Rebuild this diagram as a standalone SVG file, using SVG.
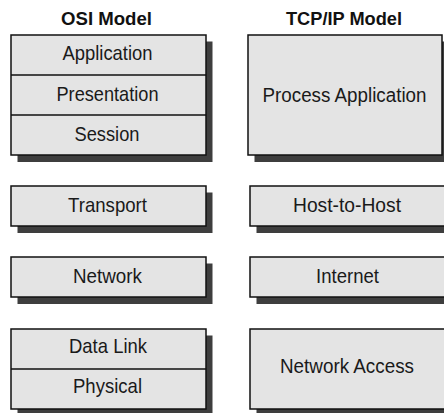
<svg xmlns="http://www.w3.org/2000/svg" width="444" height="413" viewBox="0 0 444 413">
<style>
.sh{fill:#3e3e3e;stroke:none}
.bx{fill:#e4e4e4;stroke:#111;stroke-width:1.5}
.dv{stroke:#111;stroke-width:1.5}
.t{font-family:"Liberation Sans",Arial,sans-serif;font-size:21px;fill:#1a1a1a;text-anchor:middle}
.h{font-family:"Liberation Sans",Arial,sans-serif;font-size:18.5px;font-weight:bold;fill:#111;text-anchor:middle}
</style>
<rect width="444" height="413" fill="#ffffff"/>
<g id="titles">
<text class="h" x="106.5" y="25" textLength="91" lengthAdjust="spacingAndGlyphs">OSI Model</text>
<text class="h" x="344" y="25" textLength="116" lengthAdjust="spacingAndGlyphs">TCP/IP Model</text>
</g>
<g id="osi-upper">
<rect class="sh" x="17.5" y="41.5" width="195" height="120.5"/>
<rect class="bx" x="11" y="35" width="195" height="120"/>
<line class="dv" x1="11" y1="75" x2="206" y2="75"/>
<line class="dv" x1="11" y1="115" x2="206" y2="115"/>
<text class="t" x="107.5" y="60" textLength="90" lengthAdjust="spacingAndGlyphs">Application</text>
<text class="t" x="107.5" y="101" textLength="102" lengthAdjust="spacingAndGlyphs">Presentation</text>
<text class="t" x="107" y="141" textLength="65" lengthAdjust="spacingAndGlyphs">Session</text>
</g>
<g id="osi-transport">
<rect class="sh" x="17.5" y="192.5" width="195" height="40.5"/>
<rect class="bx" x="11" y="186" width="195" height="40"/>
<text class="t" x="107.5" y="212" textLength="79" lengthAdjust="spacingAndGlyphs">Transport</text>
</g>
<g id="osi-network">
<rect class="sh" x="17.5" y="263.5" width="195" height="40.5"/>
<rect class="bx" x="11" y="257" width="195" height="40"/>
<text class="t" x="107.5" y="283" textLength="69" lengthAdjust="spacingAndGlyphs">Network</text>
</g>
<g id="osi-lower">
<rect class="sh" x="17.5" y="335.5" width="195" height="80.5"/>
<rect class="bx" x="11" y="329" width="195" height="80"/>
<line class="dv" x1="11" y1="369" x2="206" y2="369"/>
<text class="t" x="108" y="353" textLength="78" lengthAdjust="spacingAndGlyphs">Data Link</text>
<text class="t" x="107.5" y="393" textLength="69" lengthAdjust="spacingAndGlyphs">Physical</text>
</g>
<g id="tcp-process">
<rect class="sh" x="254.5" y="41.5" width="196" height="120.5"/>
<rect class="bx" x="248" y="35" width="194" height="120"/>
<text class="t" x="344.5" y="101.5" style="font-size:20px" textLength="164" lengthAdjust="spacingAndGlyphs">Process Application</text>
</g>
<g id="tcp-host">
<rect class="sh" x="256.5" y="192.5" width="196" height="40.5"/>
<rect class="bx" x="250" y="186" width="200" height="40"/>
<text class="t" x="347" y="212" textLength="108" lengthAdjust="spacingAndGlyphs">Host-to-Host</text>
</g>
<g id="tcp-internet">
<rect class="sh" x="256.5" y="263.5" width="196" height="40.5"/>
<rect class="bx" x="250" y="257" width="200" height="40"/>
<text class="t" x="347.5" y="283" textLength="63" lengthAdjust="spacingAndGlyphs">Internet</text>
</g>
<g id="tcp-access">
<rect class="sh" x="256.5" y="335.5" width="196" height="80.5"/>
<rect class="bx" x="250" y="329" width="200" height="80"/>
<text class="t" x="347" y="373" textLength="134" lengthAdjust="spacingAndGlyphs">Network Access</text>
</g>
</svg>
